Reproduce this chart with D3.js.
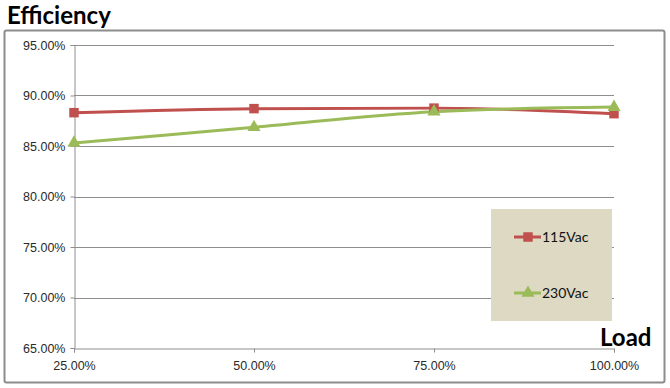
<!DOCTYPE html>
<html>
<head>
<meta charset="utf-8">
<script src="https://cdn.jsdelivr.net/npm/d3@7"></script>
<style>
  body { margin: 0; background: #fff; }
  svg { display: block; font-family: Lato, "Open Sans", sans-serif; }
</style>
</head>
<body>
<div id="chart"></div>
<script>
// chart data
const loads = [25, 50, 75, 100];
const eff115 = [88.3, 88.7, 88.75, 88.2];
const eff230 = [85.3, 86.85, 88.4, 88.85];
const yTicks = [65, 70, 75, 80, 85, 90, 95];
const seriesNames = ["115Vac", "230Vac"];

const width = 670, height = 388;
const margin = { left: 74, right: 56, top: 45, bottom: 40 };

const svg = d3.select("#chart").append("svg")
    .attr("width", width)
    .attr("height", height);

// outer chart frame
svg.append("rect")
    .attr("x", 4.5).attr("y", 30.5)
    .attr("width", 660).attr("height", 352)
    .attr("rx", 2)
    .attr("fill", "#fff")
    .attr("stroke", "#8c8c8c")
    .attr("stroke-width", 2);

const x = d3.scaleLinear().domain([25, 100]).range([margin.left, width - margin.right]);
const y = d3.scaleLinear().domain([65, 95]).range([height - margin.bottom, margin.top]);

// gridlines
svg.append("g")
    .selectAll("line")
    .data(yTicks.slice(1))
    .join("line")
    .attr("x1", x(25)).attr("x2", x(100))
    .attr("y1", d => Math.round(y(d)) + 0.5)
    .attr("y2", d => Math.round(y(d)) + 0.5)
    .attr("stroke", "#8e8e8e")
    .attr("stroke-width", 1);

// y axis
const yAxis = svg.append("g")
    .attr("transform", `translate(${x(25) + 0.5},0)`)
    .call(d3.axisLeft(y).tickValues(yTicks).tickSize(4).tickPadding(5)
        .tickFormat(d => d.toFixed(2) + "%"));
yAxis.selectAll("text").attr("font-size", 12.5).attr("fill", "#2a2a2a");

// x axis
const xAxis = svg.append("g")
    .attr("transform", `translate(0,${Math.round(y(65)) + 0.5})`)
    .call(d3.axisBottom(x).tickValues(loads).tickSize(4).tickPadding(9)
        .tickFormat(d => d.toFixed(2) + "%"));
xAxis.selectAll("text").attr("font-size", 12.5).attr("fill", "#2a2a2a");
[yAxis, xAxis].forEach(a => a.selectAll("path, line").attr("stroke", "#8e8e8e"));

// series lines
const line = d3.line()
    .x((d, i) => x(loads[i]))
    .y(d => y(d))
    .curve(d3.curveMonotoneX);

const series = [
    { name: seriesNames[0], values: eff115, color: "#c0504d", shape: d3.symbolSquare },
    { name: seriesNames[1], values: eff230, color: "#9bbb59", shape: d3.symbolTriangle }
];

series.forEach(s => {
    svg.append("path")
        .datum(s.values)
        .attr("d", line)
        .attr("fill", "none")
        .attr("stroke", s.color)
        .attr("stroke-width", 3);
});

series.forEach(s => {
    svg.append("g")
        .selectAll("path")
        .data(s.values)
        .join("path")
        .attr("transform", (d, i) => `translate(${x(loads[i])},${y(d)})`)
        .attr("d", d3.symbol().type(s.shape).size(s.shape === d3.symbolSquare ? 90 : 75))
        .attr("fill", s.color);
});

// legend
const legend = svg.append("g").attr("transform", "translate(491,209)");
legend.append("rect")
    .attr("width", 121).attr("height", 112)
    .attr("fill", "#ddd9c3");
series.forEach((s, i) => {
    const g = legend.append("g").attr("transform", `translate(0,${28 + i * 56})`);
    g.append("line")
        .attr("x1", 23).attr("x2", 50)
        .attr("stroke", s.color).attr("stroke-width", 3);
    g.append("path")
        .attr("transform", "translate(37,0)")
        .attr("d", d3.symbol().type(s.shape).size(s.shape === d3.symbolSquare ? 90 : 75))
        .attr("fill", s.color);
    g.append("text")
        .attr("x", 51).attr("y", 5)
        .attr("font-size", 14)
        .attr("fill", "#111")
        .text(s.name);
});

// titles
svg.append("text")
    .attr("x", 7).attr("y", 24)
    .attr("font-size", 24).attr("font-weight", "bold")
    .attr("fill", "#000")
    .text("Efficiency");
svg.append("text")
    .attr("x", 600).attr("y", 346)
    .attr("font-size", 24).attr("font-weight", "bold")
    .attr("fill", "#000")
    .text("Load");
</script>
</body>
</html>
